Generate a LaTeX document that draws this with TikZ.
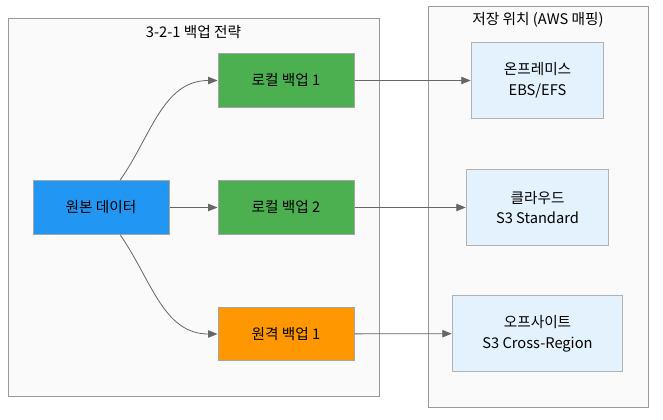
\documentclass[tikz,border=0pt]{standalone}
\usepackage{fontspec}
\setmainfont{Noto Sans CJK KR}
\usetikzlibrary{arrows.meta}
\definecolor{srcblue}{HTML}{2196F3}
\definecolor{bkgreen}{HTML}{4CAF50}
\definecolor{bkorange}{HTML}{FF9800}
\definecolor{storefill}{HTML}{E3F2FD}
\definecolor{clusterfill}{HTML}{FAFAFA}
\definecolor{linegray}{HTML}{666666}
\begin{document}
\begin{tikzpicture}[x=0.75pt,y=-0.75pt,font={\fontsize{11}{15.5}\selectfont}]
	\tikzstyle{cluster} = [draw=black!40,fill=clusterfill,line width=0.75pt]
	\tikzstyle{rect1} = [rectangle,draw=black!35,line width=0.75pt,minimum width=102pt,
	minimum height=40pt,inner sep=2pt,text centered]
	\tikzstyle{rect2} = [rectangle,draw=black!30,fill=storefill,line width=0.75pt,
	minimum height=57.5pt,inner sep=2pt,align=center]
	\tikzstyle{edge} = [draw=linegray,line width=0.6pt,-{Triangle[length=7pt,width=5.5pt]}]

	\useasboundingbox (0,0) rectangle (663,420);
	% clusters
	\draw[cluster] (8,19) rectangle (379,396);
	\draw[cluster] (428,7) rectangle (648,407);
	\node (title1) at (193.5,32) {3-2-1 백업 전략};
	\node (title2) at (538,20) {저장 위치 (AWS 매핑)};

	% backup nodes
	\node (src) [rect1, fill=srcblue] at (101,207.5) {원본 데이터};
	\node (local1) [rect1, fill=bkgreen] at (286,80.5) {로컬 백업 1};
	\node (local2) [rect1, fill=bkgreen] at (286,207.5) {로컬 백업 2};
	\node (remote1) [rect1, fill=bkorange] at (286,334) {원격 백업 1};

	% storage nodes
	\node (onprem) [rect2, minimum width=99.5pt] at (537.5,80.5) {온프레미스\\EBS/EFS};
	\node (cloud) [rect2, minimum width=107pt] at (537.5,207.5) {클라우드\\S3 Standard};
	\node (offsite) [rect2, minimum width=128pt] at (537.5,333.5) {오프사이트\\S3 Cross-Region};

	\draw[edge] (src) to[out=55,in=180] (local1.west);
	\draw[edge] (src) -- (local2);
	\draw[edge] (src) to[out=-55,in=180] (remote1.west);
	\draw[edge] (local1) -- (onprem);
	\draw[edge] (local2) -- (cloud);
	\draw[edge] (remote1) -- (offsite);
\end{tikzpicture}
\end{document}
